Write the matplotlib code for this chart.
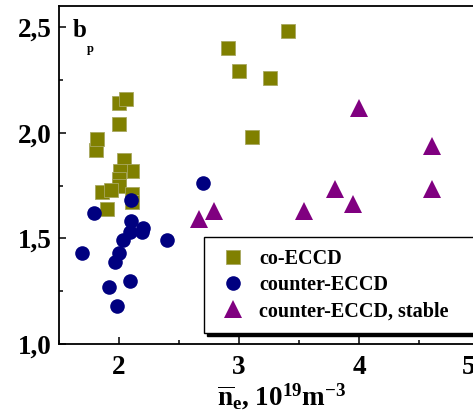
import matplotlib
matplotlib.use("Agg")
import matplotlib.pyplot as plt
from matplotlib.ticker import FixedLocator, MultipleLocator
from matplotlib.transforms import ScaledTranslation

plt.rcParams['font.family'] = ['Liberation Serif', 'DejaVu Serif']
plt.rcParams['font.weight'] = 'bold'
plt.rcParams['mathtext.fontset'] = 'custom'
plt.rcParams['mathtext.rm'] = 'Liberation Serif:bold'
plt.rcParams['mathtext.it'] = 'Liberation Serif:bold'
plt.rcParams['mathtext.bf'] = 'Liberation Serif:bold'

# data
co_x = [1.81, 1.82, 2.00, 2.00, 2.06, 2.04, 2.11, 2.01, 2.00, 2.00, 1.86, 1.93, 2.11, 2.11, 1.90,
        2.91, 3.00, 3.26, 3.41, 3.11]
co_y = [1.92, 1.97, 2.04, 2.14, 2.16, 1.87, 1.82, 1.82, 1.78, 1.75, 1.72, 1.73, 1.71, 1.67, 1.64,
        2.40, 2.29, 2.26, 2.48, 1.98]
ctr_x = [2.10, 1.79, 2.10, 2.20, 2.19, 2.09, 2.03, 2.40, 1.69, 2.00, 1.97, 1.92, 2.09, 1.98, 2.70]
ctr_y = [1.68, 1.62, 1.58, 1.55, 1.53, 1.53, 1.49, 1.49, 1.43, 1.43, 1.39, 1.27, 1.30, 1.18, 1.76]
st_x = [2.67, 2.79, 3.54, 3.80, 3.95, 4.00, 4.61, 4.61]
st_y = [1.59, 1.63, 1.63, 1.735, 1.665, 2.115, 1.935, 1.735]
labels = ['co-ECCD', 'counter-ECCD', 'counter-ECCD, stable']
xticks = [2, 3, 4, 5]
xticklabels = ['2', '3', '4', '5']
yticks = [1.0, 1.5, 2.0, 2.5]
yticklabels = ['1,0', '1,5', '2,0', '2,5']

W, H = 473, 419
fig = plt.figure(figsize=(W / 100, H / 100), dpi=100)
ax = fig.add_axes([59 / W, (H - 344) / H, 420 / W, 338 / H])

ax.plot(co_x, co_y, 's', color='#808000', markersize=10, markeredgewidth=0.6,
        markeredgecolor='#a8a860', linestyle='none', label=labels[0])
ax.plot(ctr_x, ctr_y, 'o', color='#000080', markersize=10.5, markeredgewidth=0,
        linestyle='none', label=labels[1])
ax.plot(st_x, st_y, '^', color='#800080', markersize=12.5, markeredgewidth=0,
        linestyle='none', label=labels[2])

ax.set_xlim(1.5, 5.0)
ax.set_ylim(1.0, 2.6)
ax.xaxis.set_major_locator(FixedLocator(xticks))
ax.set_xticklabels(xticklabels)
ax.xaxis.set_minor_locator(MultipleLocator(0.5))
ax.yaxis.set_major_locator(FixedLocator(yticks))
ax.set_yticklabels(yticklabels)
ax.yaxis.set_minor_locator(MultipleLocator(0.25))
ax.tick_params(which='both', direction='in', width=1.1, labelsize=19.5, top=False, right=False)
ax.tick_params(which='major', length=5)
ax.tick_params(which='minor', length=3)
ax.tick_params(axis='y', pad=5)
ax.tick_params(axis='x', pad=8)
for s in ax.spines.values():
    s.set_linewidth(1.3)

# the last x tick label sits a little left of its tick in the reference
last = ax.xaxis.get_major_ticks()[-1].label1
last.set_transform(last.get_transform() + ScaledTranslation(-0.10, 0, fig.dpi_scale_trans))

ax.text((73 - 59) / 420, 1 - (37 - 6) / 338, 'b', transform=ax.transAxes, fontsize=18,
        fontweight='bold', va='baseline', ha='left')
ax.text((87 - 59) / 420, 1 - (52 - 6) / 338, 'p', transform=ax.transAxes, fontsize=9,
        fontweight='bold', va='baseline', ha='left')

fig.text(217 / W, 1 - 405 / H, r'$\overline{\mathrm{n}}_{\mathrm{e}}$, 10$^{19}$m$^{-3}$',
         fontsize=19.5, ha='left', va='baseline')

leg = ax.legend(loc='upper left',
                bbox_to_anchor=(204 / W, (H - 329) / H, 0.6, (329 - 237) / H),
                bbox_transform=fig.transFigure, mode='expand', borderaxespad=0,
                fancybox=False, framealpha=1, edgecolor='black',
                shadow={'facecolor': 'black', 'edgecolor': 'black', 'alpha': 1},
                prop={'size': 14.5, 'weight': 'bold'},
                borderpad=0.6, labelspacing=0.3, handlelength=1.7, handletextpad=0.45,
                numpoints=1)
leg.get_frame().set_linewidth(1.0)

fig.savefig('out.png', dpi=100)
